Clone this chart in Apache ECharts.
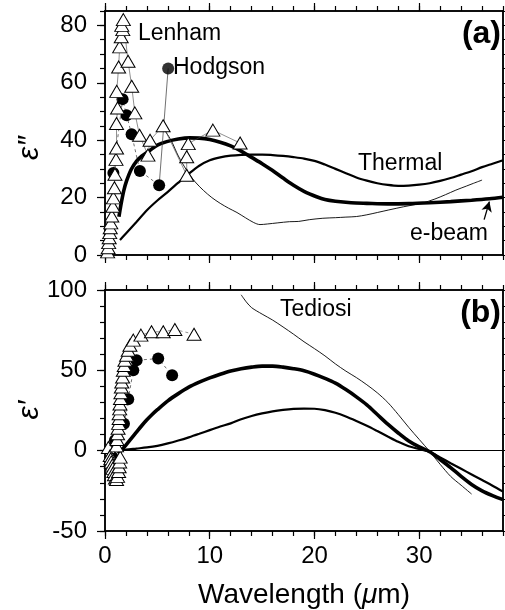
<!DOCTYPE html>
<html><head><meta charset="utf-8">
<script src="https://cdn.jsdelivr.net/npm/echarts@6/dist/echarts.min.js"></script>
<style>html,body{margin:0;padding:0;background:#fff}#c{width:505px;height:610px}</style>
</head><body><div id="c"></div>
<script>
// ---------- data: panel (a) epsilon'' ----------
const ebeamA = [[1.33,13.3],[1.45,16],[1.6,19],[1.8,22.5],[2.06,25.8],[2.5,29.8],[3.0,32.6],[3.5,34.4],[4.3,36.5],[5.0,38.3],[5.9,39.5],[7.0,40.4],[8.1,40.8],[9.0,40.7],[10.0,40.2],[11.0,39.3],[12.0,38.0],[13.0,36.2],[14.0,34.0],[15.0,31.8],[16.0,29.4],[17.0,26.8],[18.0,24.3],[19.0,22.2],[20.2,20.3],[21.0,19.3],[22.0,18.7],[23.5,18.2],[25.0,18.0],[27.0,17.8],[29.0,17.9],[31.0,18.2],[33.0,18.6],[35.0,19.1],[36.7,19.6],[38,20.1]];
const thermalA = [[1.43,5.2],[2.0,7.5],[3.0,11.5],[4.0,15.6],[5.0,19],[6.0,22],[7.0,25.2],[8.0,28.3],[9.0,31.1],[10.0,33],[11.0,34],[12.0,34.6],[13.0,34.9],[14.0,35.0],[15.0,35.0],[16.0,34.8],[17.0,34.5],[18.0,34.1],[19.0,33.6],[20.0,32.8],[21.0,31.5],[22.0,30],[23.0,28.5],[24.0,27],[25.0,25.9],[26.0,25],[27.0,24.4],[28.0,24.1],[29.0,24.2],[30.0,24.5],[31.0,25],[32.0,25.8],[33.0,26.8],[34.0,28],[35.0,29.2],[36.0,30.6],[37.0,31.8],[38.0,33]];
const tediosiA = [[5.5,44.5],[6.3,40],[7.0,34.5],[7.8,29.5],[8.6,25.5],[9.4,22.5],[10.2,20],[11.0,18],[11.8,16.3],[12.6,14.8],[13.4,13],[14.2,11.3],[14.8,10.6],[15.5,10.8],[16.5,11.2],[17.6,11.6],[18.5,11.7],[19.5,12.3],[20.8,12.8],[22,13],[23,13.2],[24,13.4],[25,14],[26,14.8],[27.1,15.7],[28.5,16.8],[30.3,18.1],[31.5,19.5],[32.5,21],[33.5,22.6],[34.5,24],[35.2,25],[36.0,26.1]];
const lenhamA = [[0.25,1.1],[0.3,2.5],[0.35,4.3],[0.4,6.0],[0.45,7.8],[0.5,9.5],[0.55,11.2],[0.65,13.6],[0.75,17.0],[0.8,19.9],[0.9,23.4],[0.95,28.1],[1.05,33.3],[1.1,37.3],[1.1,45.8],[1.2,51.2],[1.12,57],[1.3,65.5],[1.4,72.5],[1.55,76],[1.7,78.5],[1.6,80],[1.75,82],[2.2,67.5],[2.55,58.8],[2.85,49.5],[3.3,41.7],[4.1,34.8],[4.3,40],[5.55,45],[7.8,27.8],[7.8,34.2],[7.95,38.8],[10.3,43.5],[12.9,39]];
const hodgsonA = [[0.8,28.6],[1.68,54.3],[2.06,48.7],[2.54,42.1],[3.33,29.3],[5.17,24.3]];
const hodgsonKeyA = [[6.03,65],[5.17,24.3]];
const ebeamArrowA = [[36.2,12.3],[36.7,18.6]];
// ---------- data: panel (b) epsilon' ----------
const ebeamB = [[1.27,-2],[1.6,0.5],[2.0,3.5],[2.5,7.5],[3.0,11.5],[3.5,15.5],[4.0,19.2],[4.5,22.5],[5.0,25.5],[6.0,31],[7.0,35.5],[8.0,39.5],[9.0,42.6],[10.0,45.3],[11.0,47.6],[12.0,49.6],[13.0,51],[14.0,52],[15.0,52.6],[16.0,52.6],[17.0,52],[18.0,51],[19.0,49.7],[20.0,47.6],[21.0,45],[22.0,42],[23.0,38],[24.0,33.5],[25.0,28.5],[26.0,22.5],[27.0,16.5],[28.0,11],[29.0,6],[30.0,2.3],[31.0,-0.7],[32.0,-5.5],[33.0,-10.5],[34.0,-16],[35.0,-21],[36.0,-25],[37.0,-28],[38.0,-30.5]];
const thermalB = [[1.43,0],[2,0.6],[3,1.3],[4,2],[5,3],[6,4.5],[7,6.3],[8,8.3],[9,10.5],[10,12.8],[11,15],[12,17],[13,19.6],[14,21.6],[15,23.2],[16,24.5],[17,25.4],[18,26],[19,26.2],[20,26.1],[21,25.2],[22,23.6],[23,21.3],[24,18.5],[25,15.5],[26,12.2],[27,8.8],[28,5.5],[29,2.7],[30,1.0],[31,-0.7],[32,-4.2],[33,-7.8],[34,-11.3],[35,-14.8],[36,-18.3],[37,-21.8],[38,-25.5]];
const tediosiB = [[13.0,97],[13.5,92.5],[14,89],[15,85],[16,81.3],[17,77],[18,72.5],[19,67.8],[20,63.5],[21,59],[22,54],[23,49.5],[24,45.5],[25,41],[26,36],[27,30],[28,22.5],[29,14.5],[30,7],[31,-0.5],[32,-8.5],[33,-16],[34,-21.5],[35,-27]];
const lenhamB = [[0.32,2],[0.5,-3],[0.55,-5],[0.6,-7],[0.7,-9],[0.75,-11],[0.85,-13],[0.9,-15],[1.0,-17],[1.1,-18],[1.2,-16],[1.3,-13],[1.35,-10],[1.4,-7],[1.45,-4],[1.1,3],[1.15,7],[1.2,10.5],[1.25,14],[1.3,17],[1.35,20],[1.35,23],[1.4,26],[1.43,29],[1.48,32.5],[1.52,36],[1.56,39.6],[1.6,42.7],[1.68,45.8],[1.75,50],[1.84,53],[1.9,56.3],[2.06,59.4],[2.22,62.5],[2.38,65.6],[2.7,68.8],[3.43,71.9],[4.44,74],[5.56,74],[6.67,75.4],[8.5,72.5]];
const hodgsonB = [[0.7,-4],[0.95,6.5],[1.81,16.7],[2.22,32],[2.7,50],[3.02,56.3],[5.08,57.3],[6.41,46.9]];
// ---------- axes ----------
const xRange = [0, 38];
const yRangeA = [0, 85];
const yRangeB = [-50, 100];
const xMajor = [0, 10, 20, 30];
const yMajorA = [0, 20, 40, 60, 80];
const yMajorB = [-50, 0, 50, 100];
const xMinorStep = 2, yMinorStepA = 5, yMinorStepB = 10;

const FONT = '"Liberation Sans", Arial, Helvetica, sans-serif';
const chart = echarts.init(document.getElementById('c'), null, {renderer: 'canvas'});

function mkAxis(grid, pos, range, major, minorStep, isMajor, showLabels, margin) {
  const ax = {
    type: 'value', gridIndex: grid, position: pos, min: range[0], max: range[1],
    axisLine: {show: true, onZero: false, lineStyle: {color: '#000', width: 1.5}},
    splitLine: {show: false},
    axisTick: {show: true, inside: false, length: isMajor ? 8 : 5, lineStyle: {color: '#000', width: 1.2}},
    axisLabel: {show: false}
  };
  if (isMajor) {
    ax.interval = major[1] - major[0];
    ax.axisTick.customValues = major;
    if (showLabels) {
      ax.axisLabel = {show: true, customValues: major, color: '#000', fontSize: 24, fontFamily: FONT, margin: margin,
        showMinLabel: true, showMaxLabel: true,
        formatter: v => major.indexOf(v) >= 0 ? String(v) : ''};
    }
  } else {
    ax.interval = minorStep;
  }
  return ax;
}

const xAxes = [], yAxes = [];
[[0, yRangeA, yMajorA, yMinorStepA, false], [1, yRangeB, yMajorB, yMinorStepB, true]].forEach(([g, yr, ym, ys, xl]) => {
  xAxes.push(mkAxis(g, 'bottom', xRange, xMajor, xMinorStep, true, xl, 13));
  xAxes.push(mkAxis(g, 'bottom', xRange, xMajor, xMinorStep, false));
  xAxes.push(mkAxis(g, 'top', xRange, xMajor, xMinorStep, true, false));
  xAxes.push(mkAxis(g, 'top', xRange, xMajor, xMinorStep, false));
  yAxes.push(mkAxis(g, 'left', yr, ym, ys, true, true, 18));
  yAxes.push(mkAxis(g, 'left', yr, ym, ys, false));
  yAxes.push(mkAxis(g, 'right', yr, ym, ys, true, false));
  yAxes.push(mkAxis(g, 'right', yr, ym, ys, false));
});

function curve(g, data, w, extra) {
  return Object.assign({type: 'line', xAxisIndex: g * 4, yAxisIndex: g * 4, data: data, symbol: 'none', showSymbol: false,
    smooth: 0.3, lineStyle: {color: '#000', width: w}, z: 3, silent: true}, extra || {});
}
function tri(g, data, dashed) {
  return {type: 'line', xAxisIndex: g * 4, yAxisIndex: g * 4, data: data, symbol: 'triangle', symbolSize: [14, 12],
    showSymbol: true, showAllSymbol: true, itemStyle: {color: '#fff', borderColor: '#000', borderWidth: 1},
    lineStyle: {color: '#444', width: 0.6, type: dashed ? [3, 3] : 'solid'}, z: 5, silent: true};
}
function dots(g, data) {
  return {type: 'line', xAxisIndex: g * 4, yAxisIndex: g * 4, data: data, symbol: 'circle', symbolSize: 12,
    showSymbol: true, showAllSymbol: true, itemStyle: {color: '#000', borderColor: '#000', borderWidth: 0},
    lineStyle: {color: '#333', width: 0.7, type: [3, 3]}, z: 4, silent: true};
}

const series = [
  dots(0, hodgsonA),
  tri(0, lenhamA, false),
  curve(0, tediosiA, 0.9),
  curve(0, thermalA, 2.2),
  curve(0, ebeamA, 3.6, {markLine: {silent: true, symbol: ['none', 'arrow'], symbolSize: [8, 10],
    lineStyle: {color: '#000', width: 1.3, type: 'solid'}, label: {show: false},
    data: [[{coord: ebeamArrowA[0]}, {coord: ebeamArrowA[1]}]]}}),
  {type: 'line', xAxisIndex: 0, yAxisIndex: 0, data: hodgsonKeyA, symbol: 'none', showSymbol: false,
    lineStyle: {color: '#333', width: 0.7}, z: 4, silent: true},
  {type: 'scatter', xAxisIndex: 0, yAxisIndex: 0, data: [hodgsonKeyA[0]], symbol: 'circle', symbolSize: 12,
    itemStyle: {color: '#000'}, z: 6, silent: true},
  dots(1, hodgsonB),
  tri(1, lenhamB, true),
  curve(1, tediosiB, 0.9, {markLine: {silent: true, symbol: 'none', label: {show: false},
    lineStyle: {color: '#000', width: 1.2, type: 'solid'}, data: [{yAxis: 0}]}}),
  curve(1, thermalB, 2.2),
  curve(1, ebeamB, 3.6)
];

function txt(x, y, s, size, opts) {
  return Object.assign({type: 'text', x: x, y: y, z: 100, silent: true,
    style: Object.assign({text: s, font: size + 'px ' + FONT, fill: '#000', textAlign: 'left', textVerticalAlign: 'middle'}, (opts || {}).style || {})},
    (opts || {}).props || {});
}

chart.setOption({
  animation: false,
  backgroundColor: '#fff',
  grid: [
    {left: 105, top: 11, width: 398, height: 244, containLabel: false, outerBoundsMode: 'none'},
    {left: 105, top: 290, width: 398, height: 241, containLabel: false, outerBoundsMode: 'none'}
  ],
  xAxis: xAxes,
  yAxis: yAxes,
  series: series,
  graphic: [
    txt(138, 34, 'Lenham', 23),
    txt(173, 68, 'Hodgson', 23),
    txt(358, 164, 'Thermal', 23),
    txt(410, 234, 'e-beam', 23),
    txt(280, 310, 'Tediosi', 23),
    txt(501, 34, '(a)', 32, {style: {textAlign: 'right', font: 'bold 32px ' + FONT}}),
    txt(501, 313, '(b)', 32, {style: {textAlign: 'right', font: 'bold 32px ' + FONT}}),
    {type: 'text', x: 30, y: 148, rotation: Math.PI / 2, z: 100, silent: true,
      style: {text: 'ε″', font: 'italic 30px ' + FONT, fill: '#000', textAlign: 'center', textVerticalAlign: 'middle'}},
    {type: 'text', x: 30, y: 410, rotation: Math.PI / 2, z: 100, silent: true,
      style: {text: 'ε′', font: 'italic 30px ' + FONT, fill: '#000', textAlign: 'center', textVerticalAlign: 'middle'}},
    {type: 'text', x: 304, y: 595, z: 100, silent: true,
      style: {text: '{n|Wavelength (}{i|μ}{n|m)}', textAlign: 'center', textVerticalAlign: 'middle',
        rich: {n: {fontSize: 28, fontFamily: FONT, fill: '#000', color: '#000'}, i: {fontSize: 28, fontFamily: FONT, fontStyle: 'italic', fill: '#000', color: '#000'}}}}
  ]
});
</script>
</body></html>
